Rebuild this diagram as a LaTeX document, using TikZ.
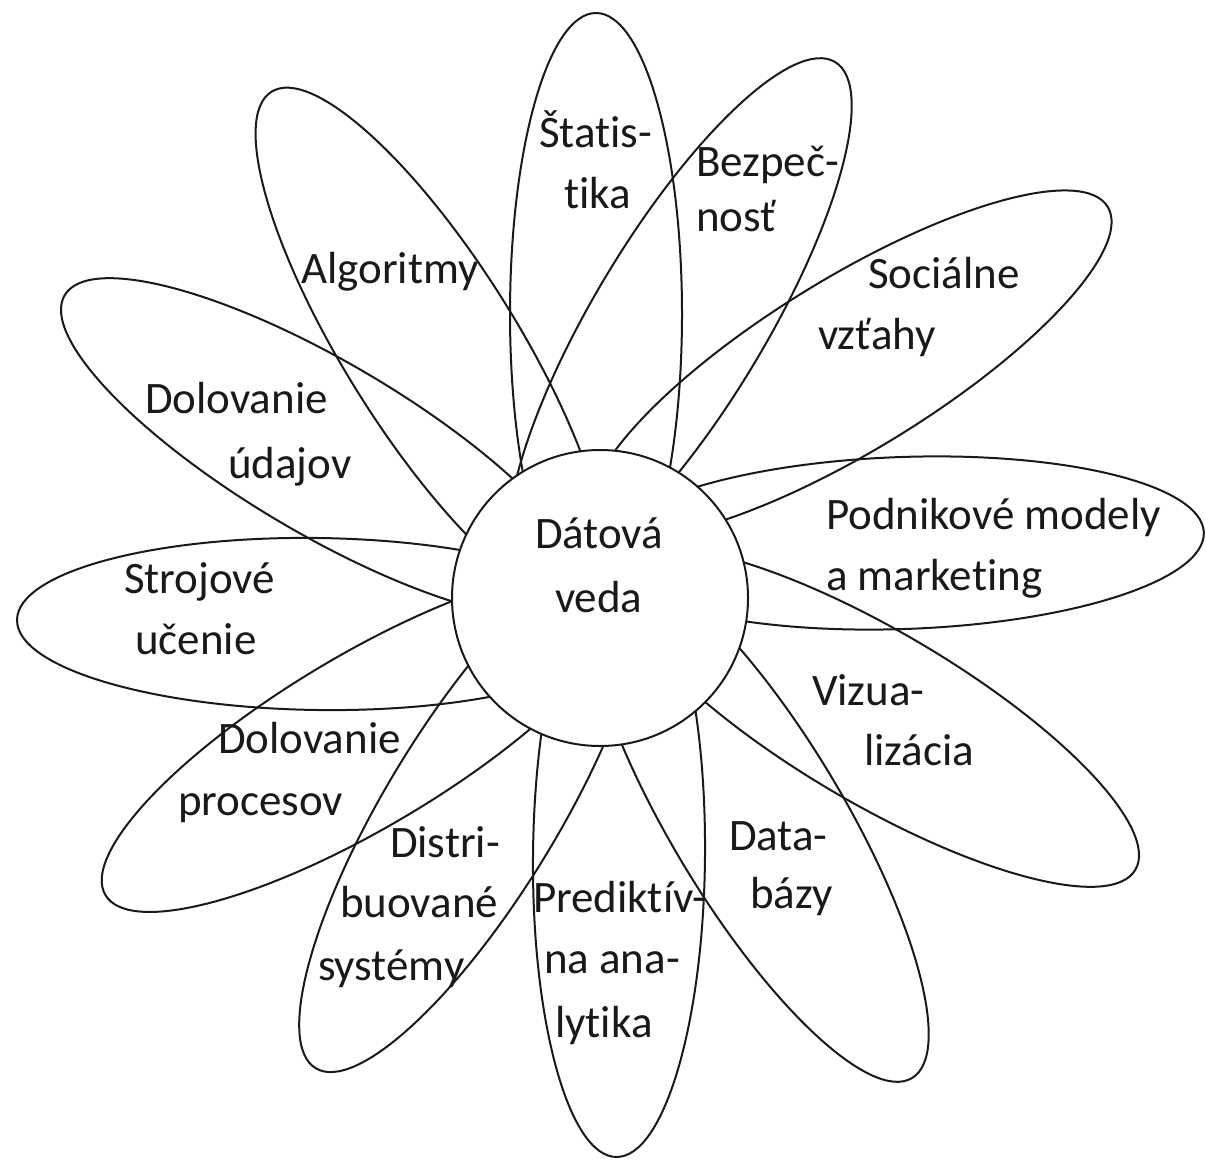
\documentclass[tikz,border=0pt]{standalone}
\usepackage{fontspec}
\setmainfont{Carlito}[Ligatures={NoCommon,NoRare,NoContextual}]
\begin{document}
\begin{tikzpicture}[x=1pt,y=-1pt,
  petal/.style={draw=black!90, line width=2pt},
  hub/.style={circle, draw=black!90, line width=2pt, fill=white, minimum size=296pt, inner sep=0pt},
  lbl/.style={anchor=base west, inner sep=0pt, outer sep=0pt, font=\fontsize{45}{54}\selectfont, text=black!90}]
\useasboundingbox (0,0) rectangle (1206,1161);
% petals
\draw[petal, rotate around={90:(596,314)}] (596,314) ellipse [x radius=301, y radius=86];
\draw[petal, rotate around={59:(680,320)}] (680,320) ellipse [x radius=301, y radius=86];
\draw[petal, rotate around={31.5:(851,364)}] (851,364) ellipse [x radius=301, y radius=86];
\draw[petal, rotate around={2:(903,543)}] (903,543) ellipse [x radius=301, y radius=86];
\draw[petal, rotate around={-30.5:(876,717)}] (876,717) ellipse [x radius=301, y radius=86];
\draw[petal, rotate around={-59:(757,820)}] (757,820) ellipse [x radius=301, y radius=86];
\draw[petal, rotate around={89.5:(619,856)}] (619,856) ellipse [x radius=301, y radius=86];
\draw[petal, rotate around={58.7:(472,811)}] (472,811) ellipse [x radius=301, y radius=86];
\draw[petal, rotate around={30.8:(364,741)}] (364,741) ellipse [x radius=301, y radius=86];
\draw[petal, rotate around={-0.8:(318,624)}] (318,624) ellipse [x radius=301, y radius=86];
\draw[petal, rotate around={-30.5:(324,448)}] (324,448) ellipse [x radius=301, y radius=86];
\draw[petal, rotate around={-58:(431,347)}] (431,347) ellipse [x radius=301, y radius=86];
% centre
\node[hub] (center) at (600,598) {};
% labels
\node[lbl] (stat1) at (539,148) {Štatis-};
\node[lbl] (stat2) at (564,208) {tika};
\node[lbl] (bez1) at (696,177) {Bezpeč-};
\node[lbl] (bez2) at (696,231) {nosť};
\node[lbl] (alg) at (301,283) {Algoritmy};
\node[lbl] (soc1) at (868,288) {Sociálne};
\node[lbl] (soc2) at (818,349) {vzťahy};
\node[lbl] (dud1) at (145,413) {Dolovanie};
\node[lbl] (dud2) at (228,478) {údajov};
\node[lbl] (pod1) at (826,529) {Podnikové modely};
\node[lbl] (pod2) at (826,590) {a marketing};
\node[lbl] (dat1) at (535,548) {Dátová};
\node[lbl] (dat2) at (555,612) {veda};
\node[lbl] (str1) at (124,593) {Strojové};
\node[lbl] (str2) at (135,654) {učenie};
\node[lbl] (viz1) at (812,705) {Vizua-};
\node[lbl] (viz2) at (864,765) {lizácia};
\node[lbl] (dpr1) at (218,753) {Dolovanie};
\node[lbl] (dpr2) at (178,815) {procesov};
\node[lbl] (dis1) at (390,857) {Distri-};
\node[lbl] (dis2) at (340,917) {buované};
\node[lbl] (dis3) at (318,980) {systémy};
\node[lbl] (dbz1) at (729,850) {Data-};
\node[lbl] (dbz2) at (750,908) {bázy};
\node[lbl] (pre1) at (533,912) {Prediktív-};
\node[lbl] (pre2) at (544,973) {na ana-};
\node[lbl] (pre3) at (555,1037) {lytika};
\end{tikzpicture}
\end{document}
